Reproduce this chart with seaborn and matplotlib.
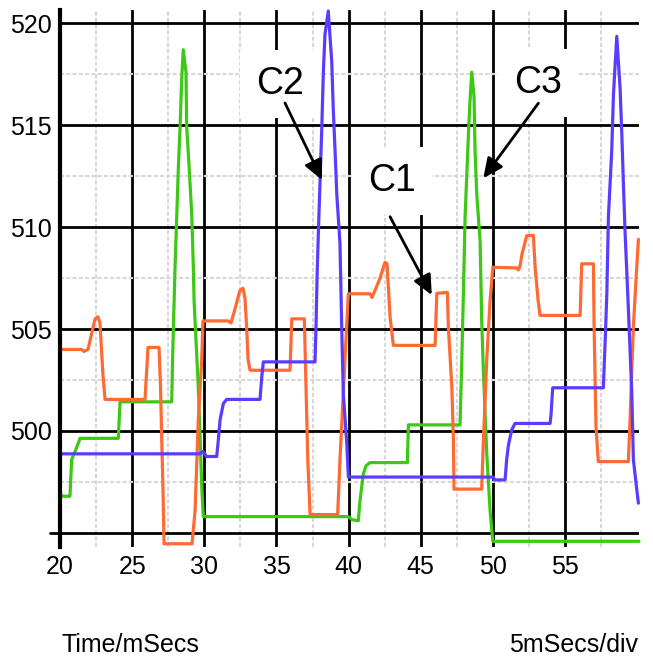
import matplotlib
matplotlib.use("Agg")
import matplotlib.pyplot as plt
from matplotlib import font_manager
import seaborn as sns
from matplotlib.ticker import FixedLocator

# ---- data (time in ms, value) ----
c1_t = [20.0, 21.50, 21.66, 21.94, 22.43, 22.63, 22.77, 22.98, 23.12, 25.89, 26.10, 26.86,
        26.96, 27.05, 27.14, 27.21, 29.15, 29.36, 29.58, 29.82, 29.91, 31.64, 31.85, 32.13,
        32.47, 32.68, 32.82, 32.94, 33.03, 33.17, 35.94, 36.06, 36.93, 37.03, 37.17, 37.33,
        39.24, 39.40, 39.63, 39.75, 39.98, 41.48, 41.62, 41.83, 42.18, 42.52, 42.66, 42.87,
        43.10, 45.99, 46.11, 46.84, 46.91, 47.15, 47.26, 47.30, 49.22, 49.33, 49.57, 49.80,
        49.99, 51.65, 51.76, 51.88, 52.02, 52.34, 52.80, 52.92, 53.13, 53.26, 56.04, 56.15,
        56.96, 57.01, 57.14, 57.30, 59.38, 59.50, 59.73, 59.92, 60.08]
c1_v = [504.0, 504.0, 503.9, 504.0, 505.5, 505.6, 505.3, 502.7, 501.55, 501.55, 504.1, 504.1,
        502.3, 499.56, 497.0, 494.47, 494.47, 496.1, 500.5, 503.5, 505.4, 505.4, 505.3, 506.0,
        506.9, 507.0, 506.5, 505.0, 503.5, 502.98, 502.98, 505.5, 505.5, 502.65, 498.6, 495.9,
        495.9, 498.6, 501.85, 503.6, 506.73, 506.73, 506.55, 506.9, 507.5, 508.28, 508.2, 505.6,
        504.2, 504.2, 506.75, 506.8, 505.1, 502.17, 499.56, 497.15, 497.15, 499.4, 503.47, 506.4,
        508.03, 508.0, 507.9, 508.1, 508.7, 509.58, 509.6, 508.03, 506.4, 505.67, 505.67, 508.2,
        508.2, 505.1, 500.2, 498.5, 498.5, 500.54, 505.1, 507.5, 509.4]

c2_t = [20.0, 29.70, 29.91, 30.05, 30.12, 30.86, 30.97, 31.09, 31.32, 31.55, 33.86, 33.98,
        34.09, 37.67, 37.74, 37.81, 37.90, 38.02, 38.14, 38.25, 38.36, 38.59, 38.83, 38.94,
        39.06, 39.18, 39.40, 39.52, 39.63, 39.87, 39.98, 50.03, 50.08, 50.84, 50.95, 51.07,
        51.30, 51.53, 53.96, 54.03, 54.14, 57.65, 57.77, 57.89, 58.00, 58.23, 58.35, 58.58,
        58.81, 58.93, 59.04, 59.16, 59.39, 59.62, 59.73, 59.97, 60.08]
c2_v = [498.88, 498.88, 499.0, 498.88, 498.75, 498.75, 499.56, 500.54, 501.35, 501.55, 501.55, 502.65,
        503.39, 503.39, 505.1, 507.5, 509.67, 512.27, 514.87, 517.65, 519.45, 520.6, 518.1, 515.7,
        513.74, 511.6, 509.2, 505.1, 501.84, 499.4, 497.74, 497.74, 497.6, 497.6, 498.6, 499.3,
        500.05, 500.37, 500.37, 500.86, 502.12, 502.12, 504.3, 506.7, 510.5, 513.74, 516.5, 519.36,
        516.8, 514.55, 512.1, 509.67, 505.9, 501.86, 498.6, 497.1, 496.46]

c3_t = [20.0, 20.14, 20.69, 20.81, 21.16, 21.39, 24.04, 24.16, 27.74, 27.80, 27.97, 28.20,
        28.32, 28.43, 28.54, 28.73, 28.78, 28.96, 29.13, 29.24, 29.29, 29.58, 29.70, 29.82,
        29.93, 39.98, 40.24, 40.67, 40.79, 41.02, 41.21, 41.48, 44.07, 44.14, 47.72, 47.84,
        47.95, 48.07, 48.30, 48.41, 48.53, 48.69, 48.76, 48.88, 49.11, 49.22, 49.33, 49.57,
        49.80, 49.99, 60.12]
c3_v = [497.0, 496.8, 496.8, 498.6, 499.2, 499.64, 499.64, 501.43, 501.43, 503.5, 508.0, 512.9,
        514.9, 517.2, 518.7, 517.6, 514.9, 512.8, 510.6, 508.0, 506.4, 502.17, 499.9, 497.3,
        495.8, 495.8, 495.65, 495.6, 496.6, 497.9, 498.3, 498.45, 498.45, 500.3, 500.3, 503.5,
        506.7, 510.5, 514.55, 516.2, 517.6, 516.4, 513.74, 511.6, 509.3, 505.43, 503.1, 498.9,
        496.1, 494.59, 494.59]

x_major = [20, 25, 30, 35, 40, 45, 50, 55]
x_minor = [22.5, 27.5, 32.5, 37.5, 42.5, 47.5, 52.5, 57.5]
y_major = [495, 500, 505, 510, 515, 520]
y_labels = ["", "500", "505", "510", "515", "520"]
y_minor = [497.5, 502.5, 507.5, 512.5, 517.5]

# ---- style ----
sns.set_theme(style="white")
names = {f.name for f in font_manager.fontManager.ttflist}
if "Liberation Sans Narrow" in names:
    FONT = ["Liberation Sans Narrow", "DejaVu Sans"]
    TICK_FS, LABEL_FS, BIG_FS = 20, 20, 30
else:
    FONT = ["Liberation Sans", "DejaVu Sans"]
    TICK_FS, LABEL_FS, BIG_FS = 18, 18, 27
plt.rcParams["font.family"] = FONT
plt.rcParams["text.color"] = "black"
plt.rcParams["xtick.color"] = "black"
plt.rcParams["ytick.color"] = "black"

fig = plt.figure(figsize=(6.53, 6.59), dpi=100)
ax = fig.add_axes([60 / 653, 1 - 547 / 659, 579 / 653, 537 / 659])

colors = {"C1": "#ff6932", "C2": "#5a3cff", "C3": "#3cc814"}
sns.lineplot(x=c3_t, y=c3_v, sort=False, estimator=None, color=colors["C3"], lw=2.3, ax=ax)
sns.lineplot(x=c1_t, y=c1_v, sort=False, estimator=None, color=colors["C1"], lw=2.3, ax=ax)
sns.lineplot(x=c2_t, y=c2_v, sort=False, estimator=None, color=colors["C2"], lw=2.3, ax=ax)
for ln in ax.get_lines():
    ln.set_clip_on(False)
    ln.set_solid_joinstyle("round")

ax.set_xlim(20, 60.12)
ax.set_ylim(494.31, 520.65)

ax.xaxis.set_major_locator(FixedLocator(x_major))
ax.xaxis.set_minor_locator(FixedLocator(x_minor))
ax.yaxis.set_major_locator(FixedLocator(y_major))
ax.yaxis.set_minor_locator(FixedLocator(y_minor))
ax.set_yticklabels(y_labels)

ax.set_axisbelow(True)
ax.grid(which="major", color="black", lw=2.0, ls="-")
ax.grid(which="minor", color="#d8d8d8", lw=1.5, ls=(0, (2, 1)))

for s in ["top", "right", "bottom"]:
    ax.spines[s].set_visible(False)
ax.spines["left"].set_color("black")
ax.spines["left"].set_linewidth(3)

ax.tick_params(axis="x", which="both", length=0, pad=6, labelsize=TICK_FS,
               colors="black", labelcolor="black")
ax.tick_params(axis="y", which="major", left=True, length=1.5, width=2, pad=4.5,
               labelsize=TICK_FS, colors="black", labelcolor="black")
ax.tick_params(axis="y", which="minor", length=0)
for lab in ax.get_xticklabels() + ax.get_yticklabels():
    lab.set_family(FONT)
    lab.set_color("black")
ax.set_xlabel("")
ax.set_ylabel("")

# extension of the 495 line to the left of the axis
ax.plot([19.3, 20], [495, 495], color="black", lw=2.0, clip_on=False, zorder=3)

# labels with arrows
box = dict(facecolor="white", edgecolor="none", boxstyle="square,pad=0.42")
labels = [("C2", (35.25, 517.02), (35.59, 516.09), (38.16, 512.31)),
          ("C3", (53.13, 517.07), (53.15, 516.08), (49.33, 512.40)),
          ("C1", (43.01, 512.26), (42.87, 510.51), (45.76, 506.67))]
for txt, pos, tail, head in labels:
    ax.text(pos[0], pos[1], txt, ha="center", va="center", fontsize=BIG_FS,
            family=FONT, color="black", bbox=box, zorder=1.8)
    ax.annotate("", xy=head, xytext=tail,
                arrowprops=dict(arrowstyle="-|>,head_length=0.6,head_width=0.28",
                                mutation_scale=20, color="black", lw=2.0,
                                shrinkA=0, shrinkB=0), zorder=4)

fig.text(62 / 653, 1 - 652 / 659, "Time/mSecs", ha="left", va="baseline",
         fontsize=LABEL_FS, family=FONT, color="black")
fig.text(638 / 653, 1 - 652 / 659, "5mSecs/div", ha="right", va="baseline",
         fontsize=LABEL_FS, family=FONT, color="black")

fig.savefig("out.png", dpi=100, facecolor="white")
